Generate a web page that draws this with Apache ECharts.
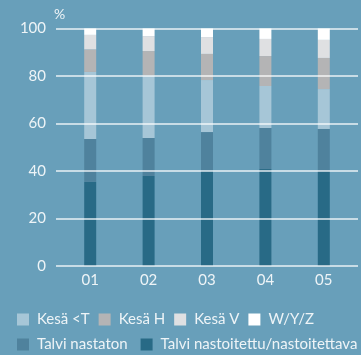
<!DOCTYPE html>
<html>
<head>
<meta charset="utf-8">
<script src="https://cdn.jsdelivr.net/npm/echarts@6/dist/echarts.min.js"></script>
<style>
  html, body { margin: 0; padding: 0; background: #689fba; }
  #chart { width: 361px; height: 355px; }
</style>
</head>
<body>
<div id="chart"></div>
<script>
// Categories along the x axis
const categories = ['01', '02', '03', '04', '05'];

// Stacked shares (%) from bottom to top
const talviNastoitettu = [35.4, 37.9, 40.2, 40.8, 40.0];
const talviNastaton    = [18.1, 16.0, 16.2, 17.3, 17.7];
const kesaT            = [28.2, 26.3, 21.9, 17.7, 16.8];
const kesaH            = [9.5, 10.3, 11.0, 12.6, 13.1];
const kesaV            = [6.1, 6.3, 7.1, 7.2, 7.6];
const wyz              = [2.7, 3.2, 3.6, 4.4, 4.8];

const yTicks = [0, 20, 40, 60, 80, 100];

const FONT = 'Lato';
const TEXT = '#eef4f7';

const seriesDefs = [
  { name: 'Talvi nastoitettu/nastoitettava', data: talviNastoitettu, color: '#286a86' },
  { name: 'Talvi nastaton', data: talviNastaton, color: '#4f829d' },
  { name: 'Kesä <T', data: kesaT, color: '#a6c6d7' },
  { name: 'Kesä H', data: kesaH, color: '#b4b4b5' },
  { name: 'Kesä V', data: kesaV, color: '#dfe0e2' },
  { name: 'W/Y/Z', data: wyz, color: '#ffffff' }
];

const chart = echarts.init(document.getElementById('chart'), null, { renderer: 'canvas' });

const legendText = { color: TEXT, fontFamily: FONT, fontSize: 15, padding: [0, 0, 0, 3] };

chart.setOption({
  backgroundColor: '#689fba',
  animation: false,
  grid: [
    { left: 61, right: 8, top: 28.5, bottom: 89 },
    { left: 56, right: 3, top: 28.5, bottom: 89 }
  ],
  legend: [
    {
      data: ['Kesä <T', 'Kesä H', 'Kesä V', 'W/Y/Z'],
      left: 12, top: 307, width: 600,
      itemWidth: 12, itemHeight: 12, itemGap: 9,
      icon: 'rect',
      textStyle: legendText
    },
    {
      data: ['Talvi nastaton', 'Talvi nastoitettu/nastoitettava'],
      left: 12, top: 332, width: 600,
      itemWidth: 12, itemHeight: 12, itemGap: 13,
      icon: 'rect',
      textStyle: legendText
    }
  ],
  xAxis: [
    {
      type: 'category', gridIndex: 0, data: categories,
      axisLine: { show: false }, axisTick: { show: false },
      axisLabel: { color: TEXT, fontFamily: FONT, fontSize: 15, margin: 7 }
    },
    { type: 'value', gridIndex: 1, show: false, min: 0, max: 1 }
  ],
  yAxis: [
    { type: 'value', gridIndex: 0, min: 0, max: 100, show: false },
    {
      type: 'value', gridIndex: 1, min: 0, max: 100, interval: 20, z: 5,
      name: '%', nameLocation: 'end', nameGap: 7,
      nameTextStyle: { color: TEXT, fontFamily: FONT, fontSize: 14, align: 'left', padding: [0, 0, 0, -2] },
      axisLine: { show: false }, axisTick: { show: false },
      axisLabel: {
        color: TEXT, fontFamily: FONT, fontSize: 15, margin: 10,
        formatter: v => (yTicks.includes(v) ? String(v) : '')
      },
      splitLine: { lineStyle: { color: 'rgba(255,255,255,0.85)', width: 1.5 } }
    }
  ],
  series: seriesDefs.map(s => ({
    name: s.name, type: 'bar', stack: 'total',
    xAxisIndex: 0, yAxisIndex: 0,
    barWidth: 12,
    itemStyle: { color: s.color },
    data: s.data
  }))
});
</script>
</body>
</html>
